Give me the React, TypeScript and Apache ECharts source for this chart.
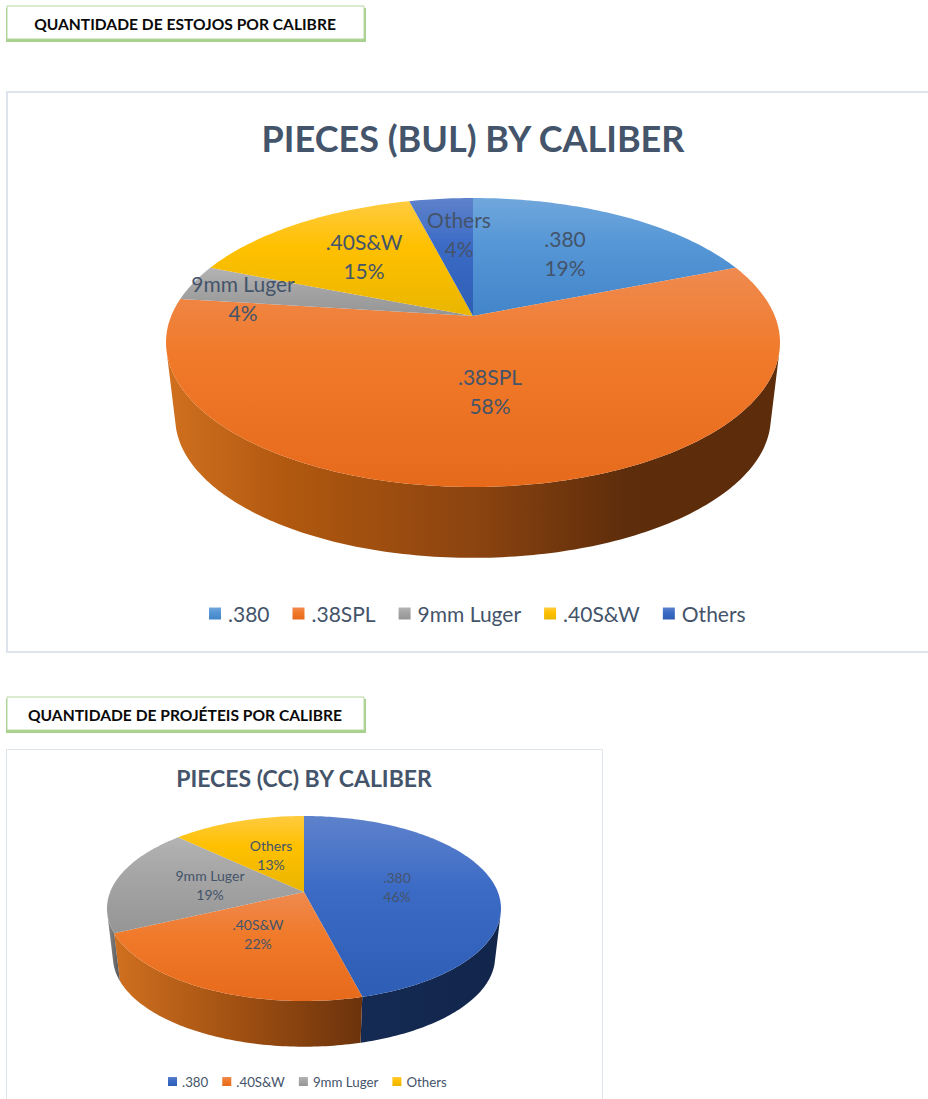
import React, { useEffect, useRef } from "react";
import * as echarts from "echarts";

const bulCategories = [".380", ".38SPL", "9mm Luger", ".40S&W", "Others"];
const bulValues = [19, 58, 4, 15, 4];
const ccCategories = [".380", ".40S&W", "9mm Luger", "Others"];
const ccValues = [46, 22, 19, 13];

const FONT = "Lato, Carlito, 'Noto Sans', sans-serif";
const TEXT = "#44546A";

const BLUE_L = ["#70A7DC", "#5596D6", "#4285C9"];
const ORANGE = ["#EF8A50", "#F07A2A", "#E76A1B"];
const GRAY = ["#B3B3B3", "#A5A5A5", "#959595"];
const YELLOW = ["#FFCB40", "#FFC000", "#E9B600"];
const BLUE_D = ["#5E82CB", "#3C6BC6", "#2E5DB5"];

const NAVY = [[0, "#152A52"], [1, "#12264C"]];
const W_ORANGE_BIG = [[0, "#D0701F"], [0.2, "#B0580F"], [0.5, "#8C4410"], [0.75, "#5E2D0B"], [1, "#5C2C0B"]];
const W_ORANGE_SMALL = [[0, "#D0701F"], [0.5, "#A05012"], [1, "#6C330C"]];
const W_GRAY = [[0, "#8A8A8A"], [1, "#555555"]];
const W_DARK_Y = [[0, "#7A5E00"], [1, "#7A5E00"]];
const W_BLUE = [[0, "#2D5C8C"], [1, "#1E3F66"]];

const vGrad = (c: string[]) =>
  new echarts.graphic.LinearGradient(0, 0, 0, 1, [
    { offset: 0, color: c[0] },
    { offset: 0.4, color: c[1] },
    { offset: 1, color: c[2] },
  ]);
const hGrad = (stops: any[]) =>
  new echarts.graphic.LinearGradient(
    0, 0, 1, 0,
    stops.map((s) => ({ offset: s[0], color: s[1] }))
  );

type Pie = {
  cx: number; cy: number; above: number; below: number; halfW: number;
  wallCy: number; wallScale: number; labelFont: number; lineHeight: number;
};

const bulPie: Pie = { cx: 473, cy: 316, above: 118, below: 171, halfW: 307, wallCy: 392, wallScale: 0.97, labelFont: 21, lineHeight: 29 };
const ccPie: Pie = { cx: 304, cy: 892, above: 76, below: 109, halfW: 197, wallCy: 941, wallScale: 0.97, labelFont: 14, lineHeight: 19 };

const bulLabels = [[565, 253], [490, 391], [243, 298], [364, 256], [459, 234]];
const ccLabels = [[397, 887], [258, 934], [210, 885], [271, 855]];

const bulFaces = [BLUE_L, ORANGE, GRAY, YELLOW, BLUE_D];
const bulWalls = [W_BLUE, W_ORANGE_BIG, W_GRAY, W_DARK_Y, NAVY];
const ccFaces = [BLUE_D, ORANGE, GRAY, YELLOW];
const ccWalls = [NAVY, W_ORANGE_SMALL, W_GRAY, W_DARK_Y];

// Perspective projection of a point on the pie rim (fraction of the full turn, clockwise from 12 o'clock)
function rim(p: Pie, frac: number, cy: number, scale: number): number[] {
  const k = (p.below - p.above) / (p.below + p.above);
  const B = p.above * (1 + k);
  const A = p.halfW * Math.sqrt(1 - k * k);
  const t = frac * 2 * Math.PI;
  const u = Math.sin(t);
  const v = -Math.cos(t);
  const d = 1 - k * v;
  return [p.cx + (scale * A * u) / d, cy + (scale * B * v) / d];
}

function arcFracs(f0: number, f1: number): number[] {
  const n = Math.max(2, Math.ceil((f1 - f0) * 360));
  const out: number[] = [];
  for (let i = 0; i <= n; i++) out.push(f0 + ((f1 - f0) * i) / n);
  return out;
}

// Keep only the part of a slice's rim whose outer wall faces the viewer
function frontWall(p: Pie, f0: number, f1: number): number[][] | null {
  const fr = arcFracs(f0, f1);
  const keep: number[] = [];
  for (let i = 0; i < fr.length; i++) {
    const a = rim(p, fr[i] - 0.0005, p.cy, 1);
    const b = rim(p, fr[i] + 0.0005, p.cy, 1);
    const t = rim(p, fr[i], p.cy, 1);
    const w = rim(p, fr[i], p.wallCy, p.wallScale);
    const cross = (b[0] - a[0]) * (w[1] - t[1]) - (b[1] - a[1]) * (w[0] - t[0]);
    if (cross < 0) keep.push(fr[i]);
  }
  if (keep.length < 2) return null;
  const top = keep.map((f) => rim(p, f, p.cy, 1));
  const bottom = keep.map((f) => rim(p, f, p.wallCy, p.wallScale)).reverse();
  return top.concat(bottom);
}

function pieSeries(p: Pie, cats: string[], vals: number[], faces: string[][], walls: any[], labels: number[][]) {
  const total = vals.reduce((a, b) => a + b, 0);
  let cum = 0;
  return cats.map((name, i) => {
    const start = cum / total;
    cum += vals[i];
    return {
      type: "custom",
      name,
      coordinateSystem: "none",
      silent: true,
      itemStyle: { color: faces[i][1] },
      data: [vals[i]],
      renderItem: (_: any, api: any) => {
        const value = api.value(0);
        const end = start + value / total;
        const top = arcFracs(start, end).map((f) => rim(p, f, p.cy, 1));
        const wall = frontWall(p, start, end);
        const children: any[] = [
          {
            type: "polygon",
            z2: 10,
            shape: { points: [[p.cx, p.cy] as number[]].concat(top) },
            style: { fill: vGrad(faces[i]) },
          },
          {
            type: "text",
            z2: 20,
            x: labels[i][0],
            y: labels[i][1],
            style: {
              text: `${name}\n${Math.round((value / total) * 100)}%`,
              fill: TEXT,
              font: `${p.labelFont}px ${FONT}`,
              lineHeight: p.lineHeight,
              align: "center",
              verticalAlign: "middle",
            },
          },
        ];
        if (wall) {
          children.unshift({
            type: "polygon",
            z2: 1,
            shape: { points: wall },
            style: { fill: hGrad(walls[i]) },
          });
        }
        return { type: "group", children };
      },
    };
  });
}

function legendOf(cats: string[], faces: string[][], left: number, top: number, size: number, icon: number, gap: number, pad: number) {
  return {
    left,
    top,
    orient: "horizontal",
    selectedMode: false,
    icon: "rect",
    itemWidth: icon,
    itemHeight: icon,
    itemGap: gap,
    padding: 0,
    textStyle: { color: TEXT, fontFamily: FONT, fontSize: size, padding: [0, 0, 0, pad] },
    data: cats.map((name, i) => ({ name, itemStyle: { color: vGrad(faces[i]) } })),
  };
}

function header(text: string, y: number, size: number) {
  return [
    { type: "rect", z: 1, shape: { x: 6, y: y + 2, width: 360, height: 34 }, style: { fill: "#A9D18E" } },
    { type: "rect", z: 2, shape: { x: 7, y, width: 357, height: 33 }, style: { fill: "#FFFFFF", stroke: "#B5D7A0", lineWidth: 1 } },
    {
      type: "text", z: 3, x: 185, y: y + 18,
      style: { text, fill: "#0A0A0A", font: `bold ${size}px ${FONT}`, align: "center", verticalAlign: "middle" },
    },
  ];
}

export default function App() {
  const ref = useRef<HTMLDivElement>(null);
  useEffect(() => {
    const chart = echarts.init(ref.current!, undefined, { renderer: "svg" });
    chart.setOption({
      animation: false,
      backgroundColor: "#FFFFFF",
      title: [
        {
          text: "PIECES (BUL) BY CALIBER", left: 468, top: 115, textAlign: "center",
          textStyle: { color: TEXT, fontFamily: FONT, fontWeight: "bold", fontSize: 36 },
        },
        {
          text: "PIECES (CC) BY CALIBER", left: 299, top: 761, textAlign: "center",
          textStyle: { color: TEXT, fontFamily: FONT, fontWeight: "bold", fontSize: 23 },
        },
      ],
      legend: [
        legendOf(bulCategories, bulFaces, 209, 603, 21, 12, 23, 2),
        legendOf(ccCategories, ccFaces, 168, 1075, 13.3, 9, 14, 0),
      ],
      graphic: {
        elements: [
          { type: "rect", z: -1, silent: true, shape: { x: 7, y: 92, width: 930, height: 560 }, style: { fill: "#FFFFFF", stroke: "#DEE4EC", lineWidth: 2 } },
          { type: "rect", z: -1, silent: true, shape: { x: 6.5, y: 749.5, width: 596, height: 370 }, style: { fill: "#FFFFFF", stroke: "#DEE4EC", lineWidth: 1 } },
          ...header("QUANTIDADE DE ESTOJOS POR CALIBRE", 6, 15.6),
          ...header("QUANTIDADE DE PROJÉTEIS POR CALIBRE", 697, 15.6),
        ],
      },
      series: [
        ...pieSeries(bulPie, bulCategories, bulValues, bulFaces, bulWalls, bulLabels),
        ...pieSeries(ccPie, ccCategories, ccValues, ccFaces, ccWalls, ccLabels),
      ],
    });
    return () => chart.dispose();
  }, []);
  return <div ref={ref} style={{ position: "absolute", left: 0, top: 0, width: 928, height: 1099 }} />;
}
